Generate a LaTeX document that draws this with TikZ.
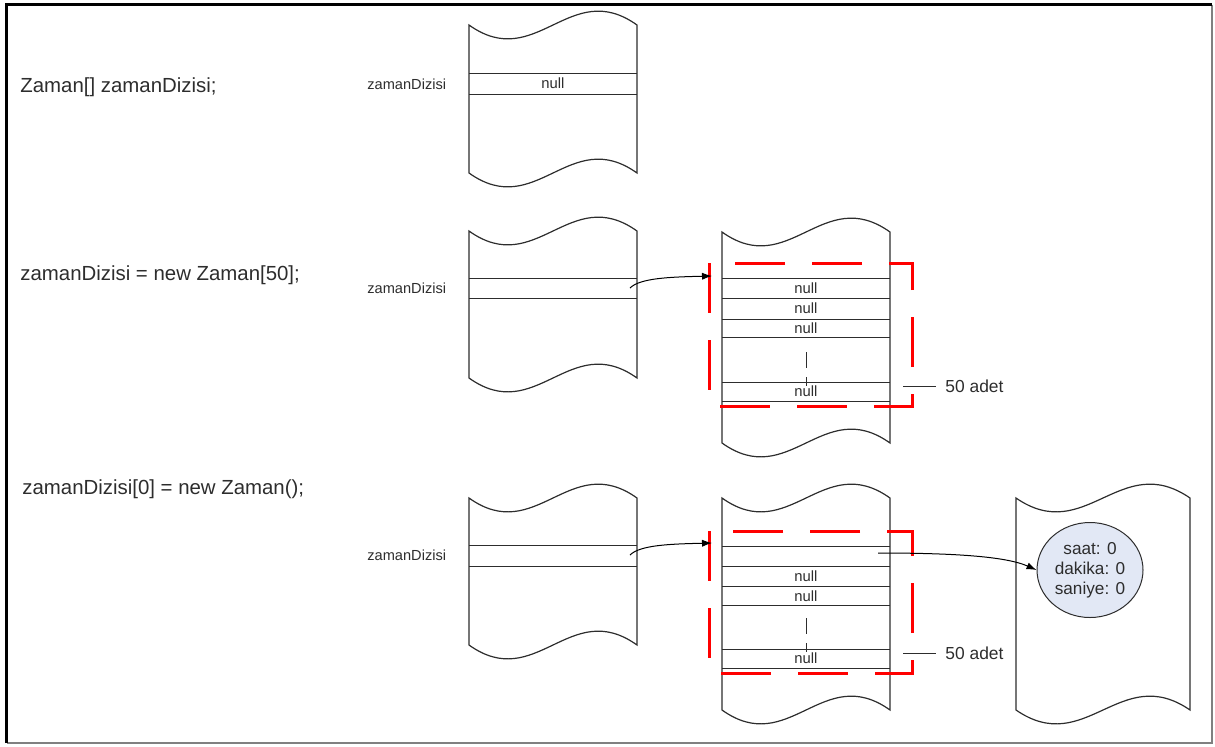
\documentclass[tikz,border=0pt]{standalone}
\usepackage{fontspec}
\setmainfont{Liberation Sans}
\usetikzlibrary{
  arrows.meta,
  shapes.geometric
}
\definecolor{inkgray}{RGB}{45,45,45}
\definecolor{objblue}{RGB}{226,232,245}
\definecolor{boxred}{RGB}{255,0,0}
% wavy memory strip: x-left, x-right, y-top, y-bottom (pixel units)
\newcommand{\memtape}[4]{%
  \draw[tape] (#1,#3) .. controls ({#1+0.4*(#2-#1)},{#3+48}) and ({#1+0.6*(#2-#1)},{#3-48}) .. (#2,#3)
    -- (#2,#4) .. controls ({#2-0.4*(#2-#1)},{#4-48}) and ({#2-0.6*(#2-#1)},{#4+48}) .. (#1,#4) -- cycle;}

\begin{document}
\begin{tikzpicture}[x=0.5pt, y=-0.5pt,
  tape/.style={draw=inkgray, line width=0.6pt},
  cell/.style={draw=inkgray, line width=0.5pt},
  code/.style={anchor=west, inner sep=0pt, text=inkgray, font=\fontsize{10.2}{12}\selectfont},
  lbl/.style={anchor=west, inner sep=0pt, text=inkgray, font=\fontsize{7.3}{9}\selectfont},
  nullt/.style={inner sep=0pt, text=inkgray, font=\fontsize{7.4}{9}\selectfont},
  adet/.style={anchor=west, inner sep=4.5pt, text=inkgray, font=\fontsize{8.7}{10}\selectfont},
  ptr/.style={draw=black, line width=0.5pt, -{Latex[length=5pt,width=3.6pt]}},
  grp/.style={draw=boxred, line width=1.5pt, dash pattern=on 25pt off 13.5pt},
  skip/.style={draw=inkgray, line width=0.5pt, dash pattern=on 8pt off 4.5pt},
  obj/.style={ellipse, draw=inkgray, fill=objblue, line width=0.5pt, minimum width=53pt, minimum height=47.5pt, inner sep=0pt, align=center, text=inkgray, font=\fontsize{8.6}{10}\selectfont}]
\useasboundingbox (0,0) rectangle (1215,746);

% frame
\draw[gray, line width=0.6pt] (1212,4.5) -- (1212,743) -- (6.5,743);
\draw[black, line width=1.5pt] (6.5,743) -- (6.5,4.5) -- (1212,4.5);

% step 1
\node[code] (c1) at (20,87) {Zaman[] zamanDizisi;};
\node[lbl] (v1) at (367,84) {zamanDizisi};
\memtape{469}{637}{25}{173}
\draw[cell] (469,73) -- (637,73);
\draw[cell] (469,94) -- (637,94);
\node[nullt] (n1) at (553,83.5) {null};

% step 2
\node[code] (c2) at (20,275) {zamanDizisi = new Zaman[50];};
\node[lbl] (v2) at (367,288) {zamanDizisi};
\memtape{469}{637}{231}{378}
\draw[cell] (469,278) -- (637,278);
\draw[cell] (469,298) -- (637,298);
\memtape{722}{890}{232}{443}
\foreach \y in {278,298,319,337,382,401}
  \draw[cell] (722,\y) -- (890,\y);
\node[nullt] (n21) at (806,288) {null};
\node[nullt] (n22) at (806,308.5) {null};
\node[nullt] (n23) at (806,328) {null};
\node[nullt] (n24) at (806,391.5) {null};
\draw[skip] (806,352) -- (806,386);
\draw[grp] (709,263) -- (709,406) -- (912,406) -- (912,263) -- cycle;
\coordinate (ref2) at (630,288);
\coordinate (arr2) at (712,276);
\draw[ptr] (ref2) .. controls (640,278) and (670,277) .. (arr2);
\node[adet] (a2) at (936,386) {50 adet};
\coordinate (b2) at (903,386);
\draw[cell] (b2) -- (a2.west);

% step 3
\node[code] (c3) at (22,489) {zamanDizisi[0] = new Zaman();};
\node[lbl] (v3) at (367,555) {zamanDizisi};
\memtape{469}{637}{498}{645}
\draw[cell] (469,545) -- (637,545);
\draw[cell] (469,566) -- (637,566);
\memtape{722}{890}{498}{710}
\foreach \y in {546,566,586,605,649,668}
  \draw[cell] (722,\y) -- (890,\y);
\node[nullt] (n32) at (806,576) {null};
\node[nullt] (n33) at (806,596) {null};
\node[nullt] (n34) at (806,658.5) {null};
\draw[skip] (806,618) -- (806,652);
\draw[grp] (709,531) -- (709,673) -- (912,673) -- (912,531) -- cycle;
\coordinate (ref3) at (630,555);
\coordinate (arr3) at (712,543);
\draw[ptr] (ref3) .. controls (640,545) and (670,544) .. (arr3);
\node[adet] (a3) at (936,653) {50 adet};
\coordinate (b3) at (903,653);
\draw[cell] (b3) -- (a3.west);

% object on the heap
\memtape{1016}{1190}{498}{710}
\node[obj] (z0) at (1090,570) {saat: 0\\dakika: 0\\saniye: 0};
\coordinate (e0) at (878,553);
\draw[ptr] (e0) .. controls (950,553) and (1005,556) .. (z0.west);
\end{tikzpicture}
\end{document}
